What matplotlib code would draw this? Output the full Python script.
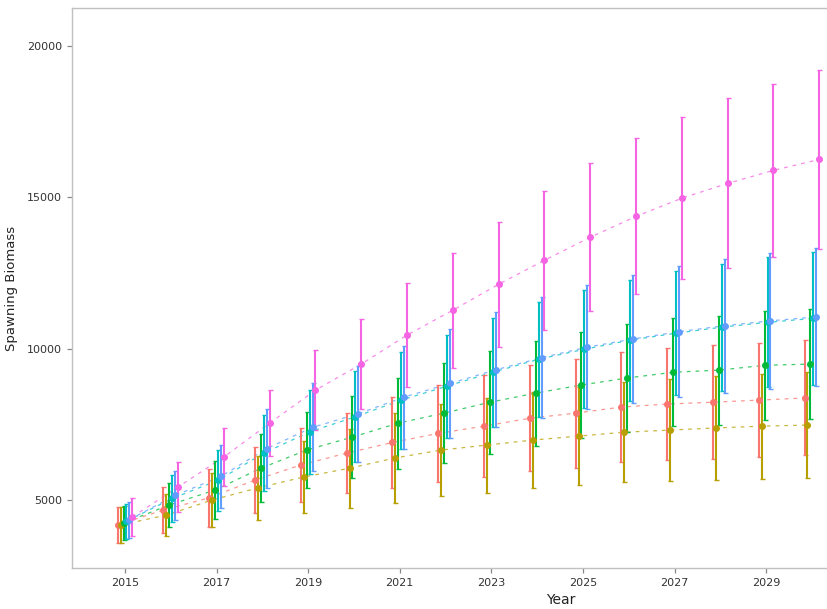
import numpy as np
import matplotlib
matplotlib.use("Agg")
import matplotlib.pyplot as plt

# projection years
years = np.arange(2015, 2031)

# mean spawning biomass per scenario
red_mean = [4175, 4670, 5070, 5660, 6155, 6550, 6900, 7200, 7440, 7700, 7870, 8070, 8170, 8230, 8300, 8370]
olive_mean = [4175, 4500, 5000, 5400, 5760, 6050, 6390, 6650, 6815, 6980, 7110, 7240, 7310, 7380, 7440, 7475]
green_mean = [4240, 4835, 5330, 6050, 6650, 7080, 7540, 7870, 8230, 8530, 8800, 9030, 9220, 9290, 9450, 9490]
teal_mean = [4300, 5050, 5650, 6550, 7250, 7750, 8300, 8760, 9220, 9650, 9980, 10280, 10510, 10710, 10870, 11000]
blue_mean = [4350, 5150, 5780, 6700, 7400, 7850, 8400, 8850, 9300, 9700, 10050, 10320, 10560, 10760, 10920, 11050]
pink_mean = [4440, 5430, 6420, 7540, 8630, 9490, 10450, 11270, 12130, 12920, 13680, 14370, 14970, 15460, 15890, 16250]

# half widths of the intervals
red_err = [600, 750, 970, 1100, 1220, 1320, 1500, 1600, 1680, 1750, 1800, 1830, 1860, 1880, 1890, 1900]
olive_err = [580, 700, 900, 1050, 1200, 1300, 1480, 1520, 1570, 1600, 1620, 1660, 1690, 1710, 1730, 1750]
green_err = [560, 720, 950, 1120, 1270, 1360, 1500, 1650, 1700, 1730, 1750, 1770, 1790, 1800, 1810, 1820]
teal_err = [580, 780, 1000, 1250, 1400, 1500, 1600, 1700, 1800, 1900, 1950, 2000, 2050, 2100, 2150, 2200]
blue_err = [600, 800, 1050, 1300, 1450, 1580, 1700, 1800, 1900, 2000, 2060, 2120, 2170, 2210, 2250, 2290]
pink_err = [620, 820, 960, 1100, 1320, 1500, 1710, 1900, 2070, 2300, 2450, 2580, 2670, 2810, 2870, 2970]

colors = ["#F8766D", "#B79F00", "#00BA38", "#00BFC4", "#619CFF", "#F564E3"]
series = [
    (red_mean, red_err),
    (olive_mean, olive_err),
    (green_mean, green_err),
    (teal_mean, teal_err),
    (blue_mean, blue_err),
    (pink_mean, pink_err),
]
dodge = np.linspace(-0.16, 0.16, len(series))

fig = plt.figure(figsize=(8.27, 6.09), dpi=100)
ax = fig.add_axes([72 / 827, 41 / 609, 755 / 827, 560 / 609])

for (mean, err), col, dx in zip(series, colors, dodge):
    x = years + dx
    ax.plot(x, mean, linestyle=(0, (3, 4)), color=col, lw=0.9, alpha=0.75, zorder=2)
    ax.errorbar(x, mean, yerr=err, fmt="none", ecolor=col, elinewidth=1.5,
                capsize=1.8, capthick=1.0, zorder=3)
    ax.plot(x, mean, "o", color=col, ms=4, zorder=4)

ax.set_xlim(2013.843, 2030.33)
ax.set_ylim(2753, 21255)
ax.set_xticks(np.arange(2015, 2031, 2))
ax.set_yticks([5000, 10000, 15000, 20000])

for side in ["left", "top", "bottom"]:
    ax.spines[side].set_color("#c0c0c0")
    ax.spines[side].set_linewidth(1.0)
ax.spines["right"].set_visible(False)
ax.tick_params(axis="both", colors="#888888", labelcolor="#333333",
               labelsize=8, length=3.5, width=0.9)

ax.set_xlabel("Year", fontsize=10, color="#222222")
ax.xaxis.set_label_coords(0.648, -0.044)
ax.set_ylabel("Spawning Biomass", fontsize=9.5, color="#222222")
ax.yaxis.set_label_coords(-0.072, 0.5)

fig.savefig("out.png", dpi=100)
